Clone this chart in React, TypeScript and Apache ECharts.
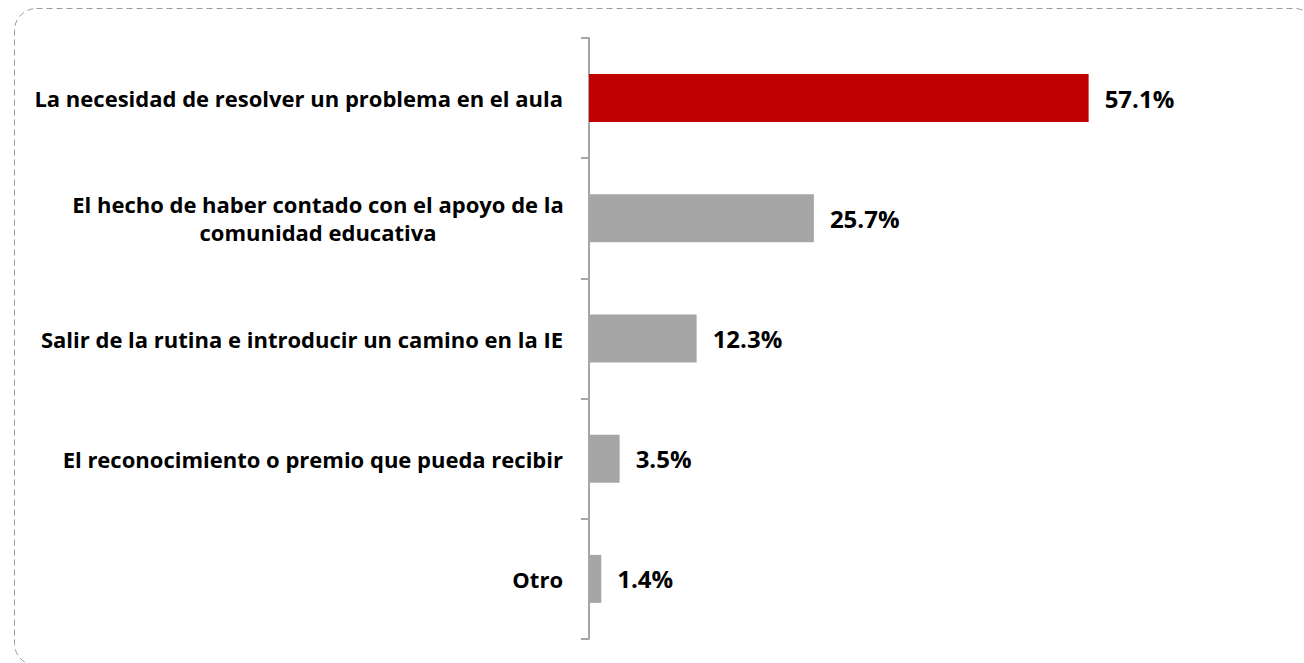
import React, { useEffect, useRef } from "react";
import * as echarts from "echarts";

const categories = [
  "La necesidad de resolver un problema en el aula",
  "El hecho de haber contado con el apoyo de la\ncomunidad educativa",
  "Salir de la rutina e introducir un camino en la IE",
  "El reconocimiento o premio que pueda recibir",
  "Otro",
];
const values = [57.1, 25.7, 12.3, 3.5, 1.4];
const barColors = ["#C00000", "#A6A6A6", "#A6A6A6", "#A6A6A6", "#A6A6A6"];

const FONT = "Open Sans";

export default function App() {
  const ref = useRef<HTMLDivElement>(null);
  useEffect(() => {
    if (!ref.current) return;
    const chart = echarts.init(ref.current, undefined, { renderer: "svg" });
    chart.setOption({
      animation: false,
      grid: { left: 589, right: 15, top: 38, bottom: 24, containLabel: false },
      xAxis: {
        type: "value",
        min: 0,
        max: 80,
        show: false,
      },
      yAxis: {
        type: "category",
        inverse: true,
        data: categories.map((c) =>
          c.indexOf("\n") >= 0
            ? { value: c, textStyle: { align: "center", padding: [0, 490, 0, 0] } }
            : c
        ),
        axisLine: { show: true, lineStyle: { color: "#A6A6A6", width: 2 } },
        axisTick: { show: true, length: 8, lineStyle: { color: "#A6A6A6", width: 2 } },
        axisLabel: {
          margin: 26,
          color: "#000",
          fontFamily: FONT,
          fontWeight: "bold",
          fontSize: 22,
          lineHeight: 28,
          align: "right",
        },
        splitLine: { show: false },
      },
      series: [
        {
          type: "bar",
          barWidth: 48,
          data: values.map((v, i) => ({ value: v, itemStyle: { color: barColors[i] } })),
          label: {
            show: true,
            position: "right",
            distance: 16,
            formatter: (p: any) => p.value.toFixed(1) + "%",
            color: "#000",
            fontFamily: FONT,
            fontWeight: "bold",
            fontSize: 24,
          },
        },
      ],
      graphic: [
        {
          type: "rect",
          silent: true,
          shape: { x: 14.5, y: 8.5, width: 1302, height: 657, r: 22 },
          style: { fill: "none", stroke: "#9A9A9A", lineWidth: 1, lineDash: [6, 4] },
        },
      ],
    });
    return () => chart.dispose();
  }, []);
  return (
    <div
      ref={ref}
      style={{ position: "fixed", left: 0, top: 0, width: 1304, height: 663, background: "#fff" }}
    />
  );
}
